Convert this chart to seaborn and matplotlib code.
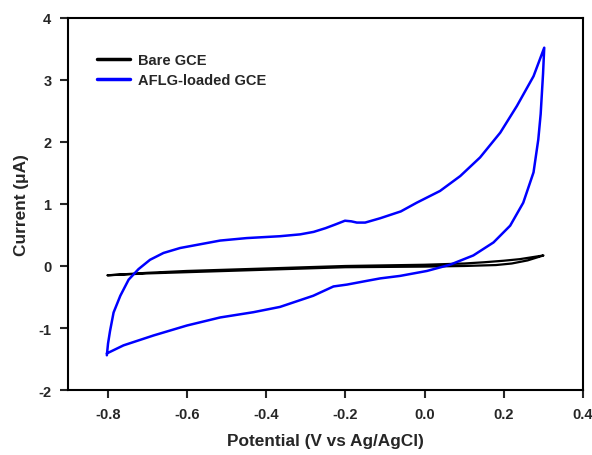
import numpy as np
import pandas as pd
import matplotlib
matplotlib.use('Agg')
import matplotlib.pyplot as plt
import seaborn as sns

# Bare GCE: forward scan then return scan
bare_v = [-0.80, -0.70, -0.60, -0.50, -0.40, -0.30, -0.20, -0.10, 0.00, 0.10, 0.15, 0.20, 0.24, 0.27, 0.29, 0.30,
          0.29, 0.26, 0.22, 0.18, 0.10, 0.00, -0.10, -0.20, -0.30, -0.40, -0.50, -0.60, -0.70, -0.80]
bare_i = [-0.15, -0.11, -0.08, -0.06, -0.04, -0.02, 0.00, 0.01, 0.02, 0.04, 0.06, 0.085, 0.11, 0.14, 0.16, 0.17,
          0.15, 0.09, 0.04, 0.015, 0.00, -0.01, -0.015, -0.02, -0.04, -0.06, -0.08, -0.10, -0.12, -0.15]

# AFLG-loaded GCE: forward (upper) branch then reverse (lower) branch
aflg_v = [-0.802, -0.799, -0.794, -0.785, -0.768, -0.747, -0.722, -0.693, -0.659, -0.617, -0.575,
          -0.516, -0.449, -0.365, -0.314, -0.280, -0.250, -0.225, -0.201, -0.185, -0.171,
          -0.150, -0.112, -0.060, -0.020, 0.039, 0.090, 0.140, 0.191, 0.233, 0.275, 0.302,
          0.299, 0.293, 0.287, 0.275, 0.249, 0.216, 0.174, 0.123, 0.064, 0.006, -0.062, -0.112,
          -0.146, -0.196, -0.230, -0.281, -0.365, -0.432, -0.516, -0.600, -0.684, -0.760, -0.802]
aflg_i = [-1.44, -1.25, -1.05, -0.75, -0.48, -0.22, -0.05, 0.10, 0.21, 0.29, 0.34,
          0.41, 0.45, 0.48, 0.51, 0.55, 0.61, 0.67, 0.73, 0.72, 0.70,
          0.70, 0.77, 0.88, 1.02, 1.21, 1.45, 1.75, 2.15, 2.58, 3.06, 3.52,
          3.10, 2.45, 2.04, 1.51, 1.02, 0.65, 0.38, 0.17, 0.02, -0.08, -0.16, -0.20,
          -0.24, -0.30, -0.33, -0.48, -0.66, -0.745, -0.83, -0.96, -1.12, -1.28, -1.41]

sns.set_style('white')
plt.rcParams['font.family'] = ['Liberation Sans', 'DejaVu Sans']
plt.rcParams['font.weight'] = 'bold'
plt.rcParams['axes.unicode_minus'] = False

fig = plt.figure(figsize=(5.92, 4.56), dpi=100)
ax = fig.add_axes([0.1149, 0.1425, 0.870, 0.816])

df_bare = pd.DataFrame({'v': bare_v, 'i': bare_i})
df_aflg = pd.DataFrame({'v': aflg_v, 'i': aflg_i})

sns.lineplot(data=df_bare, x='v', y='i', sort=False, estimator=None, color='black',
             linewidth=1.6, label='Bare GCE', ax=ax)
sns.lineplot(data=df_aflg, x='v', y='i', sort=False, estimator=None, color='#0000ff',
             linewidth=1.8, label='AFLG-loaded GCE', ax=ax)

ax.set_xlim(-0.9, 0.4)
ax.set_ylim(-2, 4)
ax.set_xticks([-0.8, -0.6, -0.4, -0.2, 0.0, 0.2, 0.4])
ax.set_xticklabels(['-0.8', '-0.6', '-0.4', '-0.2', '0.0', '0.2', '0.4'])
ax.set_yticks([-2, -1, 0, 1, 2, 3, 4])
ax.set_yticklabels(['-2', '-1', '0', '1', '2', '3', '4'])
ax.tick_params(direction='out', length=6, width=1.5, labelsize=10.5, pad=6,
               bottom=True, left=True)
for lbl in ax.get_xticklabels() + ax.get_yticklabels():
    lbl.set_fontweight('bold')
for s in ax.spines.values():
    s.set_linewidth(1.5)
    s.set_color('black')

ax.set_xlabel('Potential (V vs Ag/AgCl)', fontsize=12.4, fontweight='bold', labelpad=9)
ax.set_ylabel('Current (\u03bcA)', fontsize=12.4, fontweight='bold', labelpad=7)

leg = ax.legend(loc='upper left', bbox_to_anchor=(0.03, 0.94), frameon=False,
                handlelength=2.3, handletextpad=0.55, labelspacing=0.38,
                prop={'weight': 'bold', 'size': 10.5})
for line in leg.get_lines():
    line.set_linewidth(2.5)

fig.savefig('out.png', dpi=100)
